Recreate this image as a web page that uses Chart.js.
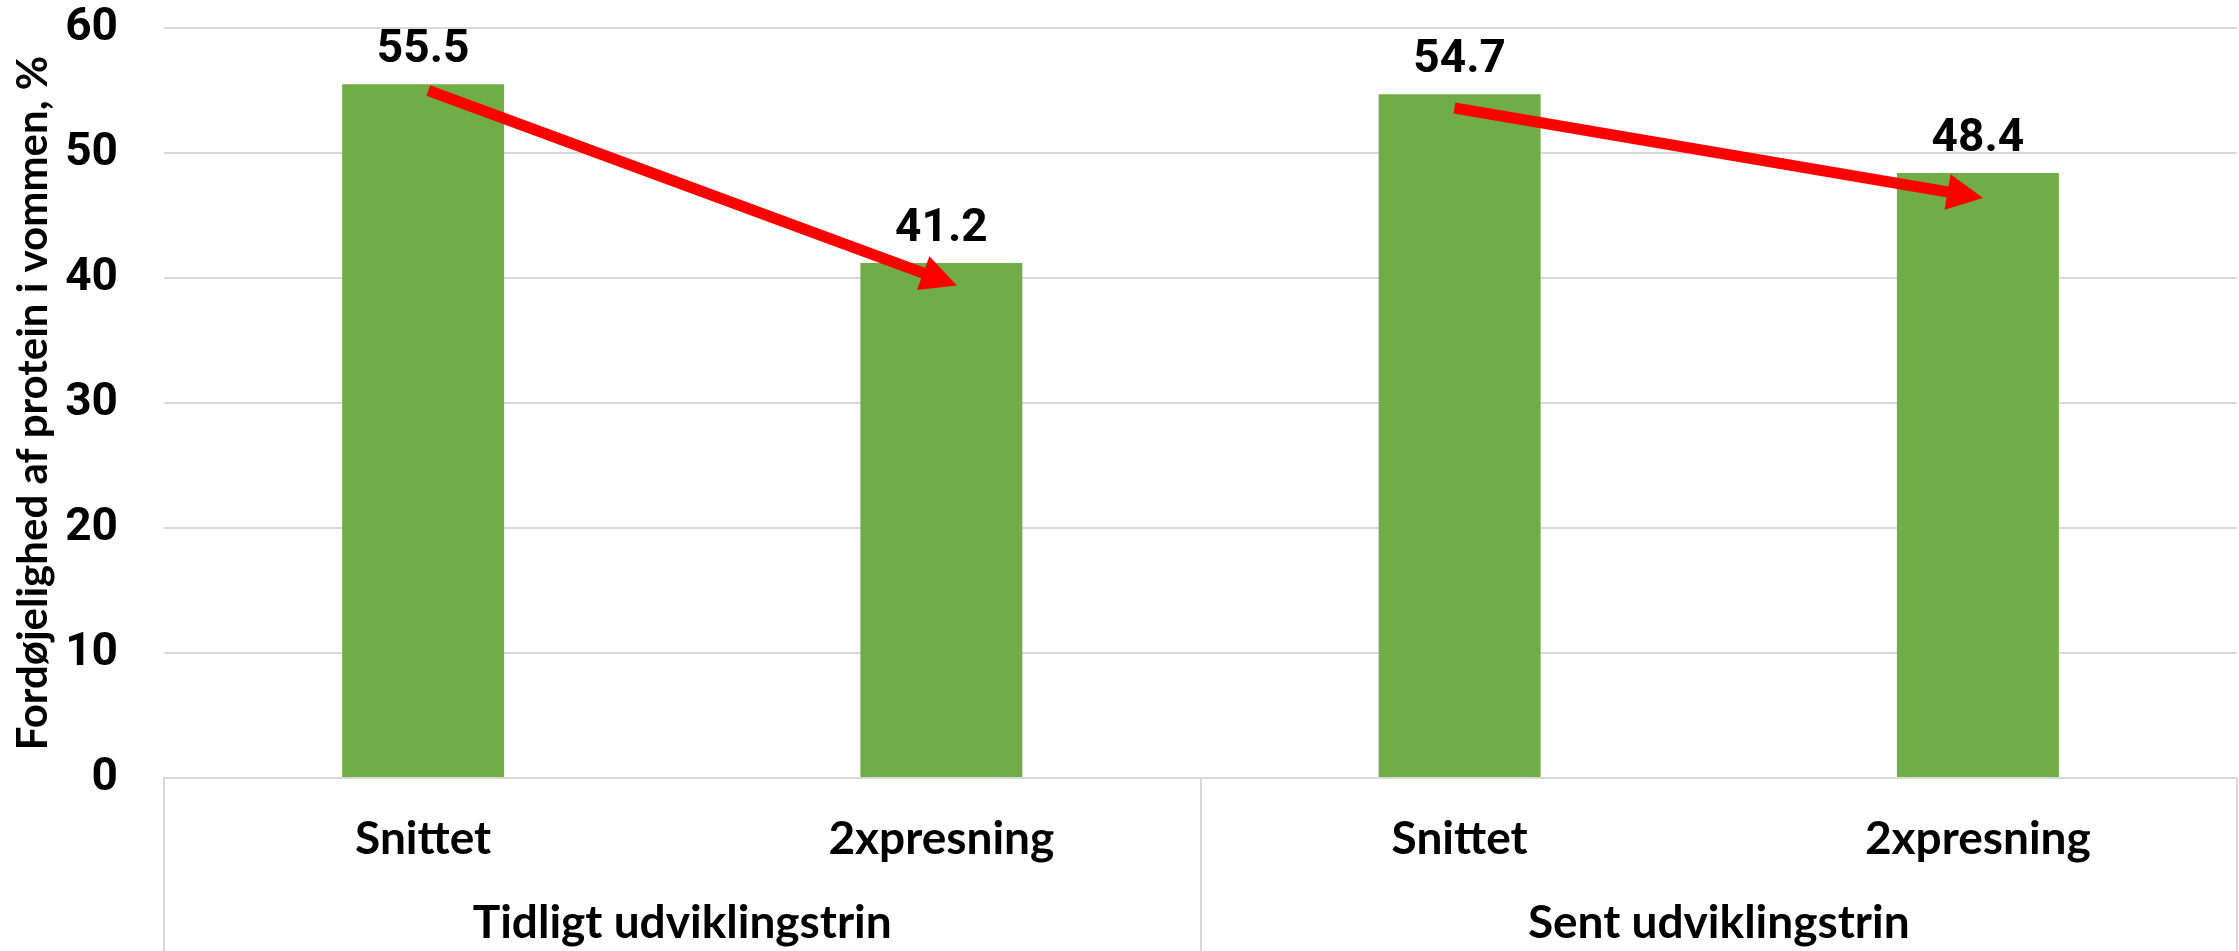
<!DOCTYPE html>
<html><head><meta charset="utf-8">
<script src="https://cdn.jsdelivr.net/npm/chart.js@4"></script>
<style>html,body{margin:0;padding:0;background:#fff;overflow:hidden}#wrap{width:2239px;height:951px;position:relative}</style>
</head><body><div id="wrap"><canvas id="c"></canvas></div>
<script>
const categories = ["Snittet", "2xpresning", "Snittet", "2xpresning"];
const groups = ["Tidligt udviklingstrin", "Sent udviklingstrin"];
const groupFirst = [0, 2];
const groupLast = [1, 3];
const values = [55.5, 41.2, 54.7, 48.4];
const yTicks = [0, 10, 20, 30, 40, 50, 60];
const yTitle = "Fordøjelighed af protein i vommen, %";
// red arrows, in data units (category index, value)
const arrowFromX = [0.01, 1.99];
const arrowFromY = [55.0, 53.6];
const arrowToX = [1.03, 3.01];
const arrowToY = [39.4, 46.4];

function drawArrow(ctx, x1, y1, x2, y2) {
  const ang = Math.atan2(y2 - y1, x2 - x1), hl = 36, hw = 18;
  const c = Math.cos(ang), s = Math.sin(ang);
  const bx = x2 - hl * c, by = y2 - hl * s;
  ctx.strokeStyle = '#FF0000'; ctx.fillStyle = '#FF0000';
  ctx.lineWidth = 11; ctx.lineCap = 'butt';
  ctx.beginPath(); ctx.moveTo(x1, y1); ctx.lineTo(bx + 2 * c, by + 2 * s); ctx.stroke();
  ctx.beginPath(); ctx.moveTo(x2, y2);
  ctx.lineTo(bx - hw * s, by + hw * c);
  ctx.lineTo(bx + hw * s, by - hw * c);
  ctx.closePath(); ctx.fill();
}

const overlay = {
  id: 'overlay',
  afterDraw(chart) {
    const ctx = chart.ctx, xs = chart.scales.x, ys = chart.scales.y;
    const meta = chart.getDatasetMeta(0);
    ctx.save();
    ctx.strokeStyle = '#D9D9D9'; ctx.lineWidth = 2;
    const bounds = [-0.5, 1.5, 3.5];
    bounds.forEach(b => {
      const px = Math.round(xs.getPixelForValue(b));
      ctx.beginPath(); ctx.moveTo(px, ys.bottom); ctx.lineTo(px, chart.height); ctx.stroke();
    });
    ctx.fillStyle = '#000'; ctx.textAlign = 'center'; ctx.textBaseline = 'alphabetic';
    ctx.font = 'bold 46px Lato';
    groups.forEach((g, i) => {
      const cx = (xs.getPixelForValue(groupFirst[i] - 0.5) + xs.getPixelForValue(groupLast[i] + 0.5)) / 2;
      ctx.fillText(g, cx, ys.bottom + 160);
    });
    for (let i = 0; i < arrowFromX.length; i++) {
      drawArrow(ctx, xs.getPixelForValue(arrowFromX[i]), ys.getPixelForValue(arrowFromY[i]),
        xs.getPixelForValue(arrowToX[i]), ys.getPixelForValue(arrowToY[i]));
    }
    ctx.font = 'bold 46px Roboto'; ctx.fillStyle = '#000';
    meta.data.forEach((bar, i) => {
      ctx.fillText(values[i].toFixed(1), bar.x, bar.y - 22);
    });
    ctx.restore();
  }
};

new Chart(document.getElementById('c'), {
  type: 'bar',
  data: {
    labels: categories,
    datasets: [{ data: values, backgroundColor: '#70AD47', borderWidth: 0, barPercentage: 0.625, categoryPercentage: 0.5 }]
  },
  options: {
    responsive: true, maintainAspectRatio: false, animation: false, devicePixelRatio: 1,
    layout: { padding: { top: 0, right: 2, left: 0, bottom: 0 } },
    plugins: { legend: { display: false }, tooltip: { enabled: false } },
    scales: {
      x: {
        grid: { display: false, drawTicks: false },
        border: { display: true, color: '#D9D9D9', width: 2 },
        ticks: { color: '#000', font: { family: 'Lato', weight: 'bold', size: 46 }, padding: 34, maxRotation: 0, autoSkip: false },
        afterFit(s) { s.height = 173; }
      },
      y: {
        min: 0, max: 60,
        afterBuildTicks(s) { s.ticks = yTicks.map(v => ({ value: v })); },
        grid: { color: '#D9D9D9', lineWidth: 2, drawTicks: false },
        border: { display: false },
        ticks: { color: '#000', font: { family: 'Roboto', weight: 'bold', size: 46 }, padding: 46 },
        title: { display: true, text: yTitle, color: '#000', font: { family: 'Lato', weight: 'bold', size: 42 }, padding: { top: 8, bottom: 0 } },
        afterFit(s) { s.width = 164; s.paddingTop = 28; s.paddingBottom = 0; }
      }
    }
  },
  plugins: [overlay]
});
</script>
</body></html>
